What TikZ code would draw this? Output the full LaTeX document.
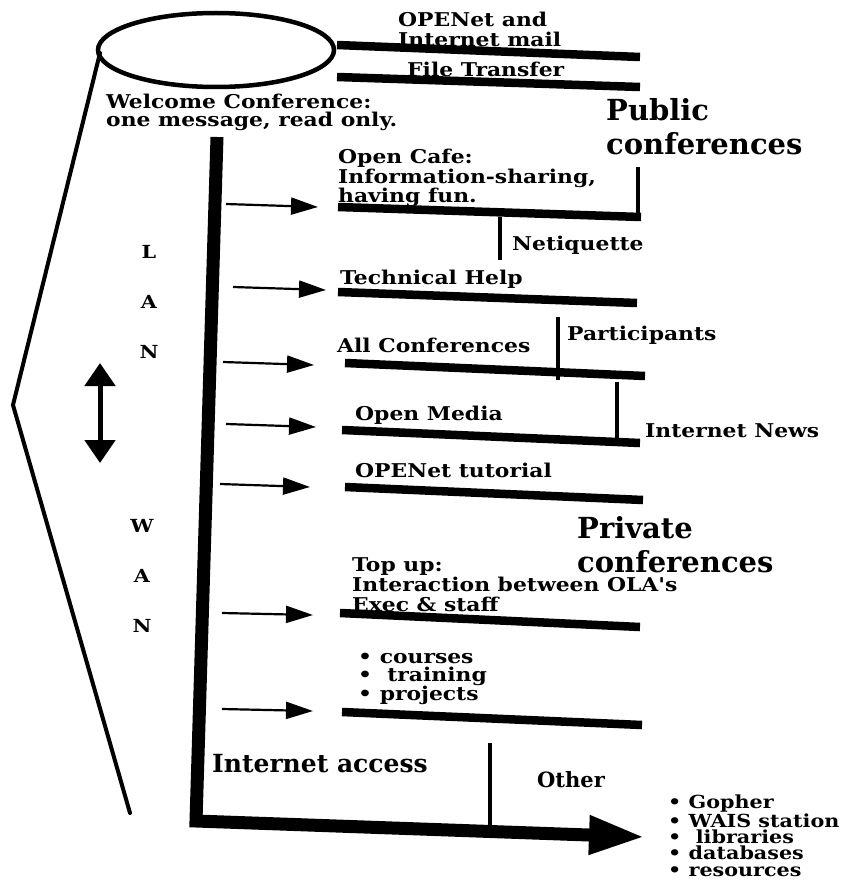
\documentclass[tikz,border=0pt]{standalone}
\usepackage{fontspec}
\setmainfont{DejaVu Serif}
\newfontfamily\wideserif{DejaVu Serif}[FakeStretch=1.15]
\usetikzlibrary{arrows.meta}

\tikzset{
  lbl/.style={font=\wideserif\bfseries\fontsize{19}{18}\selectfont, inner sep=0pt, anchor=north west, align=left},
  head/.style={font=\bfseries\fontsize{29}{34}\selectfont, inner sep=0pt, anchor=north west, align=left},
  shelf/.style={line width=8.5pt},
  tick/.style={line width=3.5pt},
  pointer/.style={line width=2.2pt, -{Triangle[length=27pt,width=17pt]}},
}

\begin{document}
\begin{tikzpicture}[x=1pt,y=1pt,yscale=-1]
\useasboundingbox (0,0) rectangle (852,880);

%Shape: top of the funnel
\draw [line width=4.5pt] (216,50) ellipse [x radius=118, y radius=37];
%Straight Lines: funnel side
\draw [line width=4pt, line cap=round] (100,53) -- (13,405) -- (130,813);
%Main bar, down then out to the right
\draw [line width=13pt, line join=miter, -{Triangle[length=56pt,width=36pt]}] (217,137) -- (196,821) -- (645,837);
%Double arrow between LAN and WAN
\draw [line width=5pt, {Triangle[length=23pt,width=30pt]}-{Triangle[length=23pt,width=30pt]}] (100,363) -- (100,463);

%Shelves
\draw [shelf] (337,45) -- (640,57);
\draw [shelf] (337,77) -- (640,87);
\draw [shelf] (338,207) -- (641,217);
\draw [shelf] (338,292) -- (637,303);
\draw [shelf] (345,363) -- (645,376);
\draw [shelf] (342,430) -- (640,443);
\draw [shelf] (345,487) -- (643,500);
\draw [shelf] (340,613) -- (640,627);
\draw [shelf] (342,712) -- (642,725);

%Ticks
\draw [tick] (638,167) -- (638,215);
\draw [tick] (500,217) -- (500,260);
\draw [tick] (558,317) -- (558,380);
\draw [tick] (617,382) -- (617,440);
\draw [tick] (490,743) -- (490,829);

%Arrows into the shelves
\draw [pointer] (226,204) -- (318,207);
\draw [pointer] (233,287) -- (326,290);
\draw [pointer] (223,362) -- (314,365);
\draw [pointer] (226,424) -- (316,427);
\draw [pointer] (220,484) -- (310,487);
\draw [pointer] (222,613) -- (313,615);
\draw [pointer] (222,709) -- (313,711);

% Text Node
\node (lan) [lbl, anchor=north, align=center, font=\wideserif\bfseries\fontsize{18}{50}\selectfont] at (149,245) {L\\A\\N};
\node (wan) [lbl, anchor=north, align=center, font=\wideserif\bfseries\fontsize{18}{50}\selectfont] at (142,519) {W\\A\\N};
\node (mail) [lbl, font=\wideserif\bfseries\fontsize{19}{19.5}\selectfont] at (398,12) {OPENet and\\Internet mail};
\node (filexfer) [lbl] at (407,61.5) {File Transfer};
\node (welcome) [lbl] at (106,93.5) {Welcome Conference:\\one message, read only.};
\node (public) [head] at (606,98) {Public\\conferences};
\node (cafe) [lbl] at (338,149) {Open Cafe:\\Information-sharing,\\having fun.};
\node (netiq) [lbl] at (512,236) {Netiquette};
\node (techhelp) [lbl] at (340,270) {Technical Help};
\node (participants) [lbl] at (567,326) {Participants};
\node (allconf) [lbl] at (337,338) {All Conferences};
\node (media) [lbl] at (355,406) {Open Media};
\node (news) [lbl] at (645,423) {Internet News};
\node (tutorial) [lbl] at (355,463) {OPENet tutorial};
\node (private) [head] at (577,516) {Private\\conferences};
\node (topup) [lbl, font=\wideserif\bfseries\fontsize{19}{20}\selectfont] at (352,557) {Top up:\\Interaction between OLA's\\Exec \& staff};
\node (courses) [lbl, font=\wideserif\bfseries\fontsize{19}{17.5}\selectfont] at (358,653) {\textbullet\ courses\\\textbullet\ \ training\\\textbullet\ projects};
\node (access) [lbl, font=\bfseries\fontsize{25}{30}\selectfont] at (212,754) {Internet access};
\node (other) [lbl, font=\bfseries\fontsize{21}{24}\selectfont] at (537,771) {Other};
\node (services) [lbl, font=\wideserif\bfseries\fontsize{18}{16.3}\selectfont] at (668,795) {\textbullet\ Gopher\\\textbullet\ WAIS station\\\textbullet\ \ libraries\\\textbullet\ databases\\\textbullet\ resources};

\end{tikzpicture}
\end{document}
